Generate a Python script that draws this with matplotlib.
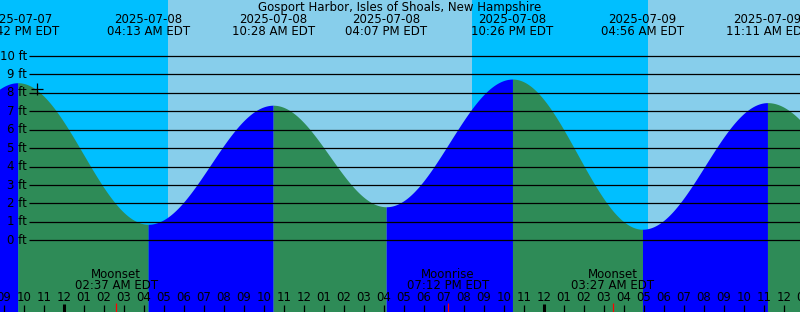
import numpy as np
import matplotlib
matplotlib.use("Agg")
import matplotlib.pyplot as plt

# times are hours after 2025-07-08 00:00 EDT
tide_times = [-8.5, -2.3, 4.217, 10.467, 16.117, 22.433, 28.933, 35.183, 41.4]
tide_heights = [1.9, 8.55, 0.87, 7.33, 1.82, 8.75, 0.6, 7.47, 1.6]
tide_labels = ["2025-07-07\n09:42 PM EDT", "2025-07-08\n04:13 AM EDT",
               "2025-07-08\n10:28 AM EDT", "2025-07-08\n04:07 PM EDT",
               "2025-07-08\n10:26 PM EDT", "2025-07-09\n04:56 AM EDT",
               "2025-07-09\n11:11 AM EDT"]
sun_times = [5.217, 20.417, 29.2]          # sunrise, sunset, sunrise
moon_times = [2.617, 19.2, 27.45]
moon_labels = ["Moonset\n02:37 AM EDT", "Moonrise\n07:12 PM EDT", "Moonset\n03:27 AM EDT"]
now_time, now_height = -1.325, 8.19
ft_levels = list(range(0, 11))
hours = list(range(-3, 38))

NIGHT = "#00BFFF"
DAY = "#87CEEB"
RISING = "#0000FF"
FALLING = "#2E8B57"

W, H = 800, 312
x0, pxh = 63.8, 20.0        # pixel of midnight, pixels per hour
y0, pxft = 240.3, 18.43     # pixel of 0 ft, pixels per ft

fig = plt.figure(figsize=(W / 100, H / 100), dpi=100)
ax = fig.add_axes([0, 0, 1, 1])
xmin, xmax = -x0 / pxh, (W - x0) / pxh
ymin, ymax = (y0 - H) / pxft, y0 / pxft
ax.set_xlim(xmin, xmax)
ax.set_ylim(ymin, ymax)
ax.axis("off")

def fy(py):
    return 1 - py / H

# sky
edges = [xmin] + sun_times + [xmax]
for i in range(len(edges) - 1):
    ax.axvspan(edges[i], edges[i + 1], color=NIGHT if i % 2 == 0 else DAY, lw=0, zorder=0)

# tide curve, cosine between extremes
for i in range(len(tide_times) - 1):
    t1, t2 = tide_times[i], tide_times[i + 1]
    h1, h2 = tide_heights[i], tide_heights[i + 1]
    t = np.linspace(t1, t2, 200)
    h = h1 + (h2 - h1) * (1 - np.cos(np.pi * (t - t1) / (t2 - t1))) / 2
    ax.fill_between(t, h, ymin, color=RISING if h2 > h1 else FALLING, lw=0, zorder=1)

# gridlines and ft labels
lx = (29 - x0) / pxh
ax.hlines(ft_levels, lx, xmax, color="black", lw=0.9, zorder=2)
for f in ft_levels:
    ax.text((27 - x0) / pxh, f, f"{f} ft", ha="right", va="center", fontsize=8.5, zorder=3)

ax.plot([now_time], [now_height], marker="+", ms=8, mew=0.9, color="black", zorder=3)

trans = ax.get_xaxis_transform()
ax.text(0.5, fy(7), "Gosport Harbor, Isles of Shoals, New Hampshire", transform=ax.transAxes,
        ha="center", va="center", fontsize=8.5)
for t, lab in zip(tide_times[1:-1], tide_labels):
    d, tm = lab.split("\n")
    ax.text(t, fy(19.5), d, transform=trans, ha="center", va="center", fontsize=8.5)
    ax.text(t, fy(31.3), tm, transform=trans, ha="center", va="center", fontsize=8.5)

for t, lab in zip(moon_times, moon_labels):
    a, b = lab.split("\n")
    ax.text(t, fy(274), a, transform=trans, ha="center", va="center", fontsize=8.5)
    ax.text(t, fy(285.5), b, transform=trans, ha="center", va="center", fontsize=8.5)
    ax.vlines(t, 0, fy(303), transform=trans, color="red", lw=0.9, zorder=3)

for hr in hours:
    lab = hr % 12
    lab = 12 if lab == 0 else lab
    ax.text(hr, fy(297.5), f"{lab:02d}", transform=trans, ha="center", va="center", fontsize=8.5)
    if hr % 24 == 0:
        ax.vlines(hr, 0, fy(304), transform=trans, color="black", lw=2.2, zorder=3)
    else:
        ax.vlines(hr, 0, fy(305), transform=trans, color="black", lw=0.9, zorder=3)

fig.savefig("out.png", dpi=100)
